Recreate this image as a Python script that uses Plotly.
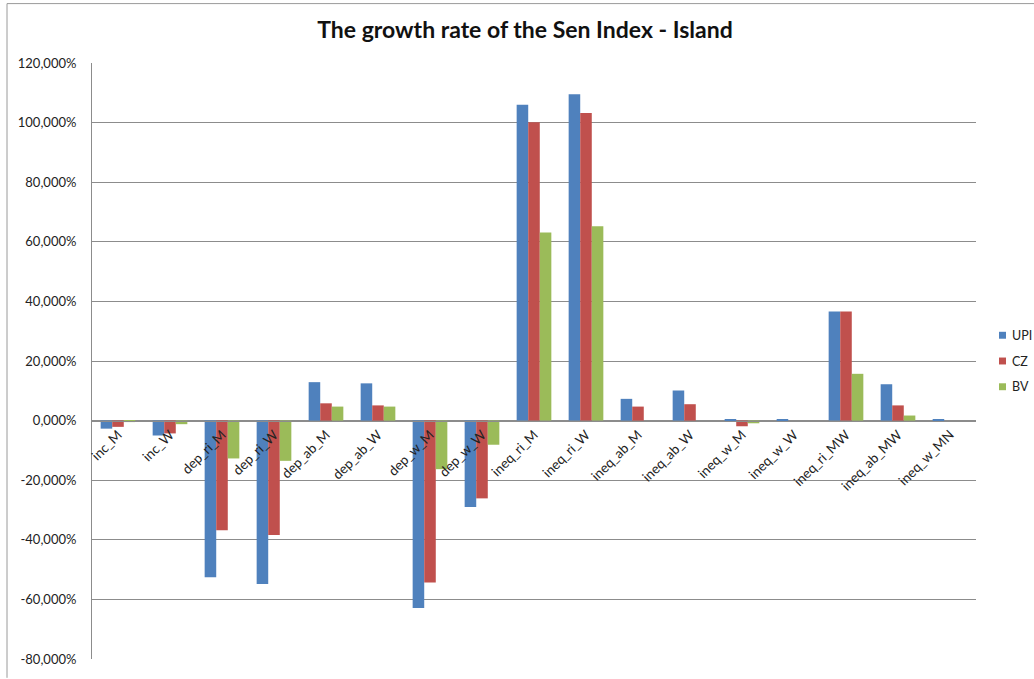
import plotly.graph_objects as go

# ---------------- data ----------------
categories = ["inc_M", "inc_W", "dep_ri_M", "dep_ri_W", "dep_ab_M", "dep_ab_W",
              "dep_w_M", "dep_w_W", "ineq_ri_M", "ineq_ri_W", "ineq_ab_M",
              "ineq_ab_W", "ineq_w_M", "ineq_w_W", "ineq_ri_MW", "ineq_ab_MW",
              "ineq_w_MN"]
upi = [-2.7, -5.0, -52.6, -54.8, 12.9, 12.5, -62.9, -29.0, 106.0, 109.5,
       7.3, 10.1, 0.5, 0.5, 36.6, 12.2, 0.5]
cz = [-2.1, -4.3, -36.8, -38.4, 5.8, 5.1, -54.3, -26.1, 100.1, 103.2,
      4.7, 5.5, -1.9, 0.0, 36.6, 5.1, 0.0]
bv = [-0.5, -1.2, -12.7, -13.5, 4.7, 4.7, -16.3, -8.1, 63.1, 65.2,
      0.0, 0.0, -0.9, 0.0, 15.7, 1.7, 0.0]
series_names = ["UPI", "CZ", "BV"]
series_values = [upi, cz, bv]
series_colors = ["#4F81BD", "#C0504D", "#9BBB59"]

y_ticks = [-80, -60, -40, -20, 0, 20, 40, 60, 80, 100, 120]
y_tick_labels = ["-80,000%", "-60,000%", "-40,000%", "-20,000%", "0,000%",
                 "20,000%", "40,000%", "60,000%", "80,000%", "100,000%",
                 "120,000%"]
title_text = "The growth rate of the Sen Index - Island"

# ---------------- layout helpers (pixel -> paper) ----------------
W, H = 1034, 679
PL, PR, PT, PB = 92, 976, 63, 665   # plot area in px
def px_x(px):
    return (px - PL) / (PR - PL)
def px_y(py):
    return (PB - py) / (PB - PT)

FONT = "Lato, 'Open Sans', sans-serif"
GRID = "#8c8c8c"

fig = go.Figure()
for name, vals, col in zip(series_names, series_values, series_colors):
    fig.add_trace(go.Bar(x=categories, y=vals, name=name, marker_color=col,
                         marker_line_width=0, showlegend=False))

ymin, ymax = y_ticks[0], y_ticks[-1]
zero_pos = (0 - ymin) / (ymax - ymin)

fig.update_layout(
    width=W, height=H,
    margin=dict(l=PL, r=W - PR, t=PT, b=H - PB, pad=0),
    paper_bgcolor="white", plot_bgcolor="white",
    barmode="group", bargap=0.333, bargroupgap=0,
    font=dict(family=FONT, size=12, color="#222222"),
    title=dict(text="<b>" + title_text + "</b>", xref="container", x=525 / W,
               xanchor="center", yref="container", y=1 - 30 / H,
               yanchor="middle",
               font=dict(family=FONT, size=23, color="#111111")),
    xaxis=dict(anchor="free", position=zero_pos, showgrid=False,
               showline=True, linecolor=GRID, linewidth=1, ticks="",
               tickangle=-45, tickfont=dict(size=13.5, color="#222222"),
               layer="above traces"),
    yaxis=dict(range=[ymin, ymax], tickvals=y_ticks, ticktext=y_tick_labels,
               showgrid=True, gridcolor=GRID, gridwidth=1, zeroline=False,
               showline=True, linecolor=GRID, linewidth=1, ticks="",
               ticklabelstandoff=12, tickfont=dict(size=13, color="#222222")),
)

shapes = []
annotations = []
# outer chart border (left and top edges)
shapes.append(dict(type="line", xref="paper", yref="paper",
                   x0=px_x(7), x1=px_x(7), y0=px_y(3), y1=px_y(H + 5),
                   line=dict(color="#9a9a9a", width=1)))
shapes.append(dict(type="line", xref="paper", yref="paper",
                   x0=px_x(7), x1=px_x(W + 5), y0=px_y(3), y1=px_y(3),
                   line=dict(color="#9a9a9a", width=1)))
# legend
for i, (name, col) in enumerate(zip(series_names, series_colors)):
    cy = 338 + 26 * i
    shapes.append(dict(type="rect", xref="paper", yref="paper",
                       x0=px_x(999), x1=px_x(1006), y0=px_y(cy + 3.5),
                       y1=px_y(cy - 3.5), fillcolor=col, line=dict(width=0)))
    annotations.append(dict(xref="paper", yref="paper", x=px_x(1010),
                            y=px_y(cy), text=name, showarrow=False,
                            xanchor="left", yanchor="middle",
                            font=dict(family=FONT, size=12.5, color="#222222")))
fig.update_layout(shapes=shapes, annotations=annotations)

fig.write_html("out.html")
